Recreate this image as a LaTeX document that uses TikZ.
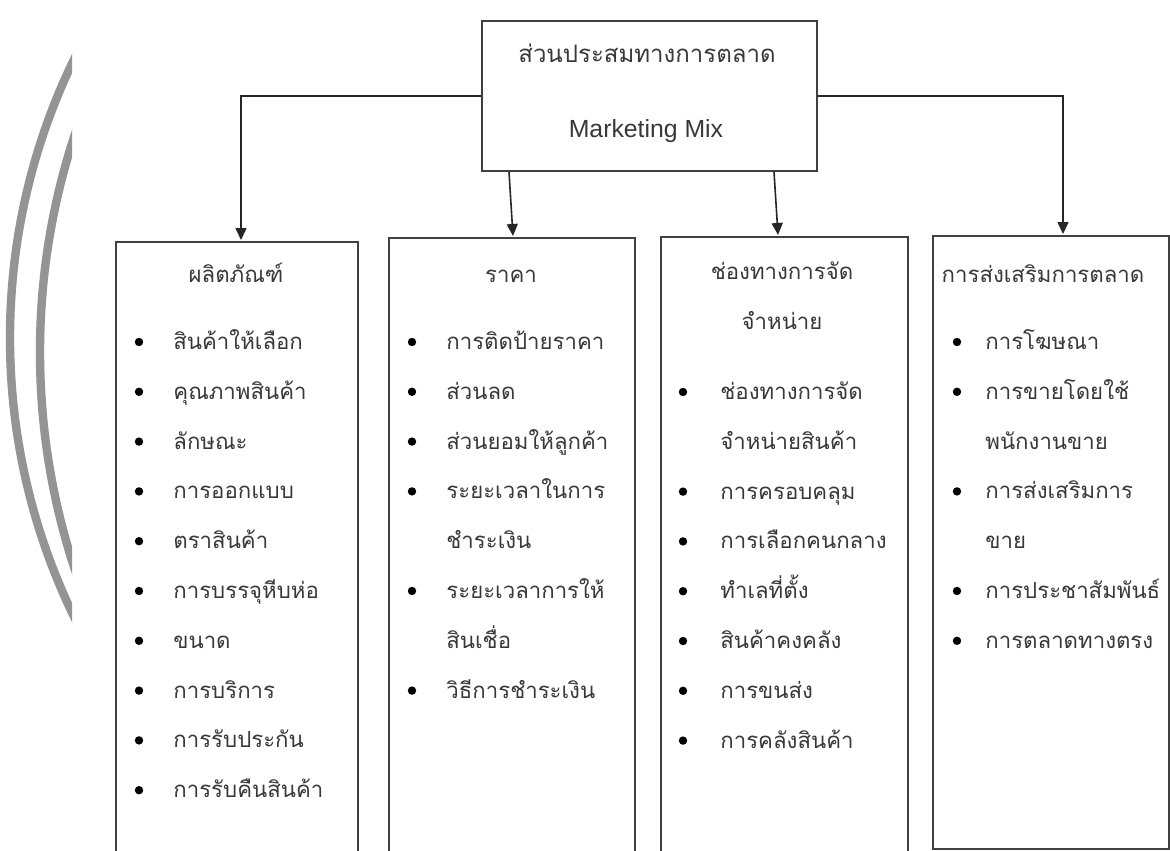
\documentclass[tikz,border=0pt]{standalone}
\usepackage{fontspec}
\setmainfont{Liberation Sans}
\newfontfamily\thai[Script=Thai]{Loma}
\usetikzlibrary{arrows.meta}
\begin{document}
\begin{tikzpicture}[x=0.5pt,y=-0.5pt,
  box/.style={draw=black!75, line width=1pt, inner sep=0pt, anchor=north west},
  arr/.style={draw=black!85, line width=0.8pt, -{Triangle[length=6pt,width=5.5pt]}},
  th/.style={font=\thai\fontsize{11.1}{13}\selectfont, text=black!78, inner sep=0pt, anchor=west, text height=1.4ex, text depth=0pt},
  ttl/.style={th, anchor=center},
  topth/.style={th, anchor=center, font=\thai\fontsize{12}{14}\selectfont},
  lat/.style={font=\fontsize{12.4}{14}\selectfont, text=black!78, inner sep=0pt},
  dot/.style={circle, fill=black, inner sep=0pt, minimum size=4.2pt},
  wm/.style={draw=black!42, line width=4.2pt}]
\useasboundingbox (0,0) rectangle (1170,850);
\clip (0,0) rectangle (1170,850);
% watermark arcs
\begin{scope}
  \clip (-20,0) rectangle (72,850);
  \draw[wm] (647,338) circle[radius=318.5pt];
  \draw[wm] (732,352) circle[radius=346pt];
\end{scope}
% boxes
\node[box, minimum width=167.5pt, minimum height=75pt] (top) at (481,20) {};
\node[box, minimum width=121pt, minimum height=330pt] (b1) at (115,241) {};
\node[box, minimum width=123pt, minimum height=330pt] (b2) at (388,237) {};
\node[box, minimum width=123.5pt, minimum height=330pt] (b3) at (660,236) {};
\node[box, minimum width=118pt, minimum height=306.5pt] (b4) at (932,235) {};
% top texts
\node[topth] (toptxt) at (647,55) {ส่วนประสมทางการตลาด};
\node[lat] (mm) at (646,131) {Marketing Mix};
% connectors
\coordinate (a1) at (241,240);
\coordinate (a2) at (513,236);
\coordinate (a3) at (778,235);
\coordinate (a4) at (1063,234);
\draw[arr] (top.west) -| (a1);
\draw[arr] ([xshift=14pt]top.south west) -- (a2);
\draw[arr] ([xshift=146.5pt]top.south west) -- (a3);
\draw[arr] (top.east) -| (a4);
% column 1
\node[ttl] (t1) at (236,275) {ผลิตภัณฑ์};
\foreach \txt/\bul [count=\i from 0] in {สินค้าให้เลือก/1,คุณภาพสินค้า/1,ลักษณะ/1,การออกแบบ/1,ตราสินค้า/1,การบรรจุหีบห่อ/1,ขนาด/1,การบริการ/1,การรับประกัน/1,การรับคืนสินค้า/1}{
  \node[th] (c1t\i) at (173,342+49.8*\i) {\txt};
  \ifnum\bul=1 \node[dot] (c1b\i) at (139,342+49.8*\i) {};\fi
}
% column 2
\node[ttl] (t2) at (511,275) {ราคา};
\foreach \txt/\bul [count=\i from 0] in {การติดป้ายราคา/1,ส่วนลด/1,ส่วนยอมให้ลูกค้า/1,ระยะเวลาในการ/1,ชำระเงิน/0,ระยะเวลาการให้/1,สินเชื่อ/0,วิธีการชำระเงิน/1}{
  \node[th] (c2t\i) at (446,342+49.8*\i) {\txt};
  \ifnum\bul=1 \node[dot] (c2b\i) at (412,342+49.8*\i) {};\fi
}
% column 3
\node[ttl] (t3a) at (782,272) {ช่องทางการจัด};
\node[ttl] (t3b) at (782,322) {จำหน่าย};
\foreach \txt/\bul [count=\i from 0] in {ช่องทางการจัด/1,จำหน่ายสินค้า/0,การครอบคลุม/1,การเลือกคนกลาง/1,ทำเลที่ตั้ง/1,สินค้าคงคลัง/1,การขนส่ง/1,การคลังสินค้า/1}{
  \node[th] (c3t\i) at (720,392+49.8*\i) {\txt};
  \ifnum\bul=1 \node[dot] (c3b\i) at (683,392+49.8*\i) {};\fi
}
% column 4
\node[ttl] (t4) at (1043,275) {การส่งเสริมการตลาด};
\foreach \txt/\bul [count=\i from 0] in {การโฆษณา/1,การขายโดยใช้/1,พนักงานขาย/0,การส่งเสริมการ/1,ขาย/0,การประชาสัมพันธ์/1,การตลาดทางตรง/1}{
  \node[th] (c4t\i) at (985,342+49.8*\i) {\txt};
  \ifnum\bul=1 \node[dot] (c4b\i) at (957,342+49.8*\i) {};\fi
}
\end{tikzpicture}
\end{document}
